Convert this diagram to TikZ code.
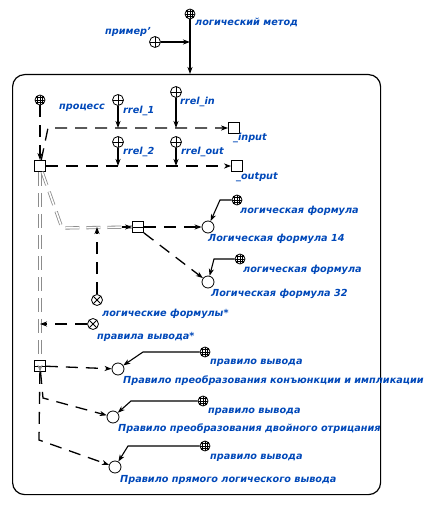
\documentclass[tikz,border=0pt]{standalone}
\usepackage{fontspec}
\setmainfont{DejaVu Sans}
\usepackage{tikz}
\usetikzlibrary{arrows.meta}
\definecolor{scgblue}{RGB}{0,72,185}
\definecolor{scggrey}{RGB}{140,140,140}
\tikzset{
    % node styles
    classnode/.style={
           circle, draw=black, thick,
           minimum size=10pt, inner sep=0pt,
           path picture={
             \foreach \d in {-2.4pt,0pt,2.4pt}{
               \draw[line width=0.5pt] ([xshift=\d]path picture bounding box.north) -- ([xshift=\d]path picture bounding box.south);
               \draw[line width=0.5pt] ([yshift=\d]path picture bounding box.west) -- ([yshift=\d]path picture bounding box.east);
             }},
           },
    rolenode/.style={
           circle, draw=black, thick,
           minimum size=11pt, inner sep=0pt,
           path picture={
             \draw[thick] (path picture bounding box.north) -- (path picture bounding box.south);
             \draw[thick] (path picture bounding box.west) -- (path picture bounding box.east);
             },
           },
    nonrolenode/.style={
           circle, draw=black, thick,
           minimum size=11pt, inner sep=0pt,
           path picture={
             \draw[thick] ([xshift=-4pt,yshift=-4pt]path picture bounding box.center) -- ([xshift=4pt,yshift=4pt]path picture bounding box.center);
             \draw[thick] ([xshift=-4pt,yshift=4pt]path picture bounding box.center) -- ([xshift=4pt,yshift=-4pt]path picture bounding box.center);
             },
           },
    elemnode/.style={
           circle, draw=black, thick,
           minimum size=12pt, inner sep=0pt,
           },
    sqnode/.style={
           rectangle, draw=black, thick,
           minimum size=11pt, inner sep=0pt,
           },
    tuplenode/.style={
           sqnode,
           path picture={
             \draw[thick] (path picture bounding box.west) -- (path picture bounding box.east);
             },
           },
    lbl/.style={
           anchor=west, inner sep=0pt,
           text=scgblue,
           font=\fontsize{9.7}{11}\selectfont\bfseries\itshape,
           },
    % connector styles
    posarc/.style={
           -{Stealth[length=7pt,width=5pt,inset=2pt]},
           line width=1.3pt, dash pattern=on 12pt off 8pt,
           },
    rolearc/.style={
           -{Stealth[length=7pt,width=5pt,inset=2pt]},
           line width=1.1pt,
           },
    commonarc/.style={
           draw=scggrey, double=white, line width=0.8pt, double distance=1.6pt,
           dash pattern=on 14pt off 7pt,
           },
}

\begin{document}
\begin{tikzpicture}[x=1pt,y=-1pt]
    \useasboundingbox (0,0) rectangle (431,505);

    % outer method and its role
    \node[classnode] (meth) at (190,14) {};
    \node[lbl] (meth-l) at (195,22) {логический метод};
    \node[rolenode] (prim) at (155,42) {};
    \node[lbl, anchor=east] (prim-l) at (151,32) {пример'};

    % contour of the method
    \node[draw=black, line width=1.2pt, rounded corners=12pt,
          minimum width=368pt, minimum height=420pt,
          anchor=north west] (ctr) at (12,74) {};

    % process and its input / output
    \node[classnode] (proc) at (40,100) {};
    \node[lbl] (proc-l) at (59,108) {процесс};
    \node[sqnode] (sq) at (40,166) {};
    \node[sqnode] (inp) at (234,128) {};
    \node[lbl] (inp-l) at (233,138) {\_input};
    \node[sqnode] (outp) at (237,166) {};
    \node[lbl] (outp-l) at (236,177) {\_output};

    \node[rolenode] (r1) at (118,100) {};
    \node[lbl] (r1-l) at (123,111) {rrel\_1};
    \node[rolenode] (rin) at (176,92) {};
    \node[lbl] (rin-l) at (180,102) {rrel\_in};
    \node[rolenode] (r2) at (118,142) {};
    \node[lbl] (r2-l) at (123,152) {rrel\_2};
    \node[rolenode] (rout) at (176,142) {};
    \node[lbl] (rout-l) at (181,152) {rrel\_out};

    % formulas
    \node[tuplenode] (tf) at (138,227) {};
    \node[elemnode] (f14) at (208,227) {};
    \node[lbl] (f14-l) at (208,239) {Логическая формула 14};
    \node[classnode] (cf1) at (237,200) {};
    \node[lbl] (cf1-l) at (240,211) {логическая формула};
    \node[elemnode] (f32) at (208,282) {};
    \node[lbl] (f32-l) at (211,294) {Логическая формула 32};
    \node[classnode] (cf2) at (240,259) {};
    \node[lbl] (cf2-l) at (243,270) {логическая формула};
    \node[nonrolenode] (nlf) at (97,300) {};
    \node[lbl] (nlf-l) at (102,314) {логические формулы*};
    \node[nonrolenode] (nrv) at (93,324) {};
    \node[lbl] (nrv-l) at (97,337) {правила вывода*};

    % inference rules
    \node[tuplenode] (tr) at (40,366) {};
    \node[elemnode] (rule1) at (118,369) {};
    \node[lbl] (rule1-l) at (123,381) {Правило преобразования конъюнкции и импликации};
    \node[classnode] (cr1) at (205,352) {};
    \node[lbl] (cr1-l) at (210,363) {правило вывода};
    \node[elemnode] (rule2) at (113,417) {};
    \node[lbl] (rule2-l) at (118,429) {Правило преобразования двойного отрицания};
    \node[classnode] (cr2) at (203,401) {};
    \node[lbl] (cr2-l) at (208,412) {правило вывода};
    \node[elemnode] (rule3) at (115,467) {};
    \node[lbl] (rule3-l) at (120,480) {Правило прямого логического вывода};
    \node[classnode] (cr3) at (205,446) {};
    \node[lbl] (cr3-l) at (210,458) {правило вывода};

    % common (grey) connectors
    \draw[commonarc] (sq) -- (tr);
    \draw[commonarc] (sq) -- (62,228) -- (tf);
    \draw[-{Stealth[length=7pt,width=5pt,inset=2pt]}, line width=1.2pt, scggrey]
        ([yshift=-10pt]tr.north) -- (tr);
    \draw[-{Stealth[length=7pt,width=5pt,inset=2pt]}, line width=1.2pt]
        ([xshift=-10pt]tf.west) -- (tf);

    % top connectors
    \draw[rolearc] (meth) -- (meth |- ctr.north);
    \draw[rolearc] (prim) -- (prim -| meth);

    % access arcs
    \draw[posarc] (proc) -- (sq);
    \draw[posarc] (sq) -- (48,128) -- (inp);
    \draw[posarc] (sq) -- (outp);
    \draw[posarc] (tf) -- (f14);
    \draw[posarc] (tf.south east) -- (f32);
    \draw[posarc] (nlf) -- (nlf |- tf);
    \draw[posarc] (nrv) -- (nrv -| tr);
    \draw[posarc] (tr) -- (rule1);
    \draw[posarc] (tr) -- (43,398) -- (rule2);
    \draw[posarc] (tr) -- (39,440) -- (rule3);

    % role arcs
    \draw[rolearc] (r1) -- (r1 |- inp);
    \draw[rolearc] (rin) -- (rin |- inp);
    \draw[rolearc] (r2) -- (r2 |- outp);
    \draw[rolearc] (rout) -- (rout |- outp);
    \draw[rolearc] (cf1) -- ++(-17,0) -- (f14);
    \draw[rolearc] (cf2) -- ++(-26,0) -- (f32);
    \draw[rolearc] (cr1) -- ++(-62,0) -- (rule1);
    \draw[rolearc] (cr2) -- ++(-72,0) -- (rule2);
    \draw[rolearc] (cr3) -- ++(-77,0) -- (rule3);
\end{tikzpicture}
\end{document}
